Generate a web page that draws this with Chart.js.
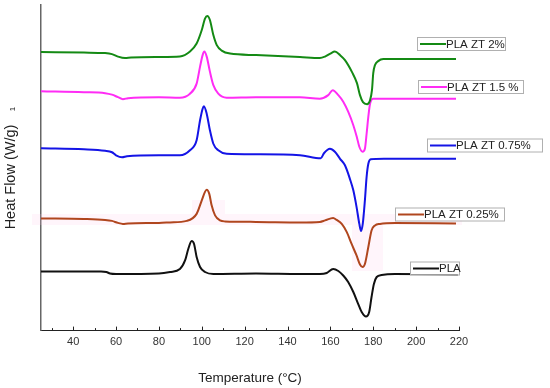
<!DOCTYPE html>
<html>
<head>
<meta charset="utf-8">
<script src="https://cdn.jsdelivr.net/npm/chart.js@4.4.1/dist/chart.umd.min.js"></script>
<style>
html,body{margin:0;padding:0;background:#fff;}
#wrap{width:550px;height:388px;position:relative;}
</style>
</head>
<body>
<div id="wrap"><canvas id="c" width="550" height="388"></canvas></div>
<script>
// Temperature (°C) and heat flow (W/g, curves offset vertically)
const seriesNames = ["PLA ZT 2%", "PLA ZT 1.5 %", "PLA ZT 0.75%", "PLA ZT 0.25%", "PLA"];

const tempZT2 = [25,45,54.9,58.1,60.9,64.2,67,80,89.8,94.5,97.6,100.0,101.5,102.6,103.8,105.4,107.0,109.3,113.2,125.3,145.8,155.1,157.5,160,162.1,164.5,166.8,170.1,172.4,173.8,175.2,177.1,178.5,179.4,180.0,180.8,182.3,184.7,200,218.6];
const flowZT2 = [5.56,5.55,5.54,5.52,5.47,5.44,5.45,5.46,5.47,5.57,5.73,6.00,6.23,6.28,6.20,5.90,5.70,5.59,5.53,5.50,5.46,5.44,5.47,5.53,5.57,5.50,5.40,5.16,4.94,4.70,4.56,4.52,4.60,4.80,5.14,5.30,5.38,5.42,5.42,5.42];

const tempZT15 = [25,45,54.9,58.1,60.9,63.2,65.6,80,89.8,94.5,97.6,99.2,100.4,101.2,102.3,103.8,105.4,107.7,111.6,125.3,145.8,155.1,159.0,161.1,163.7,166.0,168.3,170.7,172.3,173.5,175.0,176.1,176.9,177.7,178.5,180.0,185,218.6];
const flowZT15 = [4.78,4.76,4.74,4.71,4.66,4.62,4.64,4.66,4.65,4.73,4.93,5.27,5.50,5.57,5.47,5.17,4.90,4.73,4.65,4.66,4.66,4.63,4.70,4.80,4.70,4.57,4.37,4.10,3.87,3.67,3.57,3.63,3.93,4.27,4.53,4.63,4.63,4.63];

const tempZT075 = [25,45,54.9,58.1,60,62.8,65.1,80,89.8,94.5,97.6,99.2,100.4,101.0,102.3,103.8,105.4,107.7,111.6,125.3,145.8,155.5,157.0,159.8,162.1,164.5,166.8,169.1,170.7,172.2,173.5,174.3,175.1,176.1,176.9,177.7,178.8,185,218.6];
const flowZT075 = [3.64,3.62,3.59,3.56,3.50,3.46,3.48,3.50,3.50,3.60,3.80,4.20,4.43,4.48,4.33,4.00,3.73,3.60,3.53,3.52,3.50,3.44,3.54,3.63,3.57,3.43,3.30,3.03,2.80,2.47,2.13,1.99,2.13,2.60,3.07,3.33,3.42,3.43,3.43];

const tempZT025 = [25,45,54.9,58.1,60.9,63.2,65.6,80,85.2,93.0,97.6,100.0,101.5,102.3,103.5,104.6,106.2,108.5,110.8,125.3,145.8,155.1,157.5,161.3,162.9,165.3,167.6,169.9,172.2,173.8,175.0,176.1,177.7,179.2,180.8,183.1,190.1,218.6];
const flowZT025 = [2.24,2.23,2.21,2.19,2.15,2.13,2.14,2.15,2.16,2.19,2.33,2.60,2.77,2.81,2.73,2.50,2.30,2.20,2.18,2.17,2.16,2.17,2.20,2.25,2.21,2.13,1.97,1.73,1.50,1.32,1.27,1.33,1.67,2.00,2.10,2.13,2.15,2.14];

const tempPLA = [25,45,53,55.5,57.2,60,80,85.2,89.8,92.2,93.7,95.3,96.4,97.6,99.2,101.5,105.4,125.3,145.8,155.1,158.3,161.3,163.7,166.0,168.3,170.7,173.0,174.6,176.6,178.1,179.2,180.3,181.6,183.9,190.1,219.5];
const flowPLA = [1.18,1.18,1.18,1.17,1.14,1.13,1.14,1.17,1.23,1.40,1.63,1.79,1.73,1.47,1.27,1.17,1.13,1.14,1.13,1.13,1.15,1.23,1.19,1.10,0.97,0.77,0.53,0.37,0.28,0.37,0.67,0.93,1.07,1.11,1.13,1.12];

const xTickLabels = [40,60,80,100,120,140,160,180,200,220];

const colors = ["#148a14", "#ff2cf5", "#1414e6", "#b0461e", "#111111"];
const temps = [tempZT2, tempZT15, tempZT075, tempZT025, tempPLA];
const flows = [flowZT2, flowZT15, flowZT075, flowZT025, flowPLA];

// legend box placement (pixels): left x, center y, box width
const legendBoxes = [
  {x:417, y:43.5, w:88},
  {x:418, y:86.5, w:105},
  {x:427, y:145, w:115},
  {x:395, y:214, w:109},
  {x:410, y:268, w:49}
];

const datasets = seriesNames.map((name, i) => ({
  label: name,
  data: temps[i].map((t, j) => ({x: t, y: flows[i][j]})),
  borderColor: colors[i],
  backgroundColor: colors[i],
  borderWidth: 2,
  pointRadius: 0,
  fill: false,
  cubicInterpolationMode: 'monotone'
}));

const decor = {
  id: 'decor',
  beforeDatasetsDraw(chart) {
    const ctx = chart.ctx;
    ctx.save();
    ctx.fillStyle = 'rgba(255,200,235,0.18)';
    ctx.fillRect(32, 214, 430, 11);
    ctx.fillRect(192, 200, 33, 14);
    ctx.fillRect(352, 225, 31, 46);
    ctx.restore();
  },
  afterDraw(chart) {
    const ctx = chart.ctx;
    const xs = chart.scales.x;
    const area = chart.chartArea;
    ctx.save();
    // inward ticks on x axis
    ctx.strokeStyle = '#222';
    ctx.lineWidth = 1;
    for (let t = 30; t <= 220; t += 10) {
      const px = Math.round(xs.getPixelForValue(t)) + 0.5;
      const len = (t % 20 === 0) ? 4 : 2.5;
      ctx.beginPath();
      ctx.moveTo(px, area.bottom);
      ctx.lineTo(px, area.bottom - len);
      ctx.stroke();
    }
    // y title
    ctx.fillStyle = '#222';
    ctx.font = '14.5px "Liberation Sans", Arial, sans-serif';
    ctx.textAlign = 'center';
    ctx.textBaseline = 'middle';
    ctx.save();
    ctx.translate(11, 177);
    ctx.rotate(-Math.PI / 2);
    ctx.fillText('Heat Flow (W/g)', 0, 0);
    ctx.restore();
    ctx.save();
    ctx.translate(13, 109);
    ctx.rotate(-Math.PI / 2);
    ctx.font = '8px "Liberation Sans", Arial, sans-serif';
    ctx.fillText('1', 0, 0);
    ctx.restore();
    // legends
    chart.data.datasets.forEach((ds, i) => {
      const b = legendBoxes[i];
      ctx.fillStyle = '#fff';
      ctx.fillRect(b.x, b.y - 6.5, b.w, 13);
      ctx.strokeStyle = '#b0b0b0';
      ctx.lineWidth = 1;
      ctx.strokeRect(b.x + 0.5, b.y - 6.5 + 0.5, b.w, 13);
      ctx.strokeStyle = ds.borderColor;
      ctx.lineWidth = 2;
      ctx.beginPath();
      ctx.moveTo(b.x + 3, b.y + 0.5);
      ctx.lineTo(b.x + 29, b.y + 0.5);
      ctx.stroke();
      ctx.fillStyle = '#222';
      ctx.font = '11.5px "Liberation Sans", Arial, sans-serif';
      ctx.textAlign = 'left';
      ctx.textBaseline = 'middle';
      ctx.fillText(ds.label, b.x + 29, b.y + 1);
    });
    ctx.restore();
  }
};

new Chart(document.getElementById('c'), {
  type: 'line',
  data: { datasets },
  options: {
    responsive: false,
    animation: false,
    layout: { padding: { left: 41, right: 91, top: 5, bottom: 2 } },
    plugins: { legend: { display: false }, tooltip: { enabled: false } },
    scales: {
      x: {
        type: 'linear',
        min: 25, max: 220,
        grid: { display: false, drawTicks: false },
        border: { display: true, color: '#222', width: 1 },
        afterBuildTicks(axis) { axis.ticks = xTickLabels.map(v => ({value: v})); },
        ticks: {
          padding: 5,
          color: '#333',
          font: { size: 11, family: '"Liberation Sans", Arial, sans-serif' },
          maxRotation: 0,
          autoSkip: false
        },
        title: {
          display: true,
          text: 'Temperature (°C)',
          color: '#222',
          font: { size: 13.5, family: '"Liberation Sans", Arial, sans-serif' },
          padding: { top: 16, bottom: 0 }
        }
      },
      y: {
        type: 'linear',
        min: 0, max: 6.5,
        grid: { display: false, drawTicks: false },
        border: { display: true, color: '#666', width: 1.5 },
        ticks: { display: false }
      }
    }
  },
  plugins: [decor]
});
</script>
</body>
</html>
